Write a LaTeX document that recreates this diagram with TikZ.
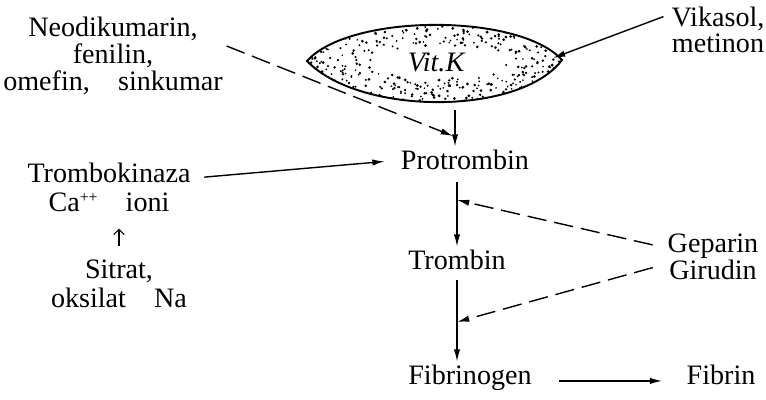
\documentclass[tikz,border=0pt]{standalone}
\usepackage{fontspec}
\setmainfont{Liberation Serif}
\usetikzlibrary{arrows.meta}

\begin{document}
\begin{tikzpicture}[>=Latex,
  every node/.style={font=\fontsize{16}{15.2}\selectfont,inner sep=2pt},
  arr/.style={-{Latex[length=7pt,width=3.6pt]},line width=0.8pt},
  brk/.style={dash pattern=on 11pt off 4.5pt}]
\useasboundingbox (0,0) rectangle (15.32,8);

\begin{scope}
\clip (6.14,6.78) .. controls (7.0,7.74) and (10.4,7.74) .. (11.24,6.8)
  .. controls (10.4,5.68) and (7.2,5.68) .. cycle;
\pgfmathsetseed{11}
\foreach \k in {1,...,650}{
  \pgfmathsetmacro\px{6.1+5.2*rnd}
  \pgfmathsetmacro\py{5.9+1.65*rnd}
  \pgfmathsetmacro\rr{((\px-8.72)/1.42)^2+((\py-6.76)/0.34)^2-0.5*rnd}
  \ifdim\rr pt>0.8pt \fill (\px,\py) circle ({0.5pt+0.4pt*rnd}); \fi
}
\end{scope}
\draw[line width=1.1pt] (6.14,6.78) .. controls (7.0,7.74) and (10.4,7.74) .. (11.24,6.8)
  .. controls (10.4,5.68) and (7.2,5.68) .. cycle;
\node (vitk) at (8.72,6.76) {\itshape Vit.K};

\coordinate (tipR) at (11.06,6.84);
\coordinate (lensB) at (9.1,5.8);
\coordinate (jv) at (9.06,5.28);
\coordinate (j1) at (9.14,4.0);
\coordinate (j2) at (9.14,1.56);

\node[align=center] (neo) at (2.26,6.88) {Neodikumarin,\\fenilin,\\omefin,\quad sinkumar};
\node[align=center] (vik) at (14.36,7.4) {Vikasol,\\metinon};

\node[anchor=base] (protr) at (9.3,4.6) {Protrombin};
\node[anchor=base] (tromb) at (9.14,2.6) {Trombin};
\node[anchor=base] (fibg) at (9.4,0.3) {Fibrinogen};
\node[anchor=base] (fibr) at (14.42,0.3) {Fibrin};
\node[align=center] (hep) at (14.26,2.87) {Geparin\\Girudin};

\node[align=center,font=\fontsize{16}{16.8}\selectfont] (tkz) at (2.18,4.25) {Trombokinaza\\Ca\raisebox{0.33em}{\fontsize{9}{9}\selectfont ++}\quad ioni};
\node[align=center,font=\fontsize{16}{16.5}\selectfont] (sit) at (2.38,2.33) {Sitrat,\\oksilat\quad Na};

\draw[arr,shorten <=0.09cm] ([yshift=0.3cm]vik.west) -- (tipR);
\draw[arr,brk] ([yshift=0.2cm]neo.east) -- (jv);
\draw[arr] (lensB) -- (lensB |- protr.north);
\draw[arr,shorten <=0.2cm,shorten >=0.25cm] ([yshift=0.19cm]tkz.east) -- (protr.west);
\draw[arr,shorten <=0.15cm] (protr.south -| tromb.north) -- (tromb.north);
\draw[arr,shorten <=0.12cm] (tromb.south) -- (tromb.south |- fibg.north);
\draw[arr,shorten <=0.47cm,shorten >=0.41cm] ([yshift=2.3pt]fibg.base east) -- ([yshift=2.3pt]fibr.base west);
\draw[arr,brk,shorten <=0.23cm] ([yshift=0.18cm]hep.west) -- (j1);
\draw[arr,brk,shorten <=0.23cm] ([yshift=-0.16cm]hep.west) -- (j2);
\draw[-{Straight Barb[length=3pt,width=6pt]},line width=0.6pt,shorten <=0.19cm,shorten >=0.25cm] (sit.north) -- (tkz.south -| sit.north);
\end{tikzpicture}
\end{document}
